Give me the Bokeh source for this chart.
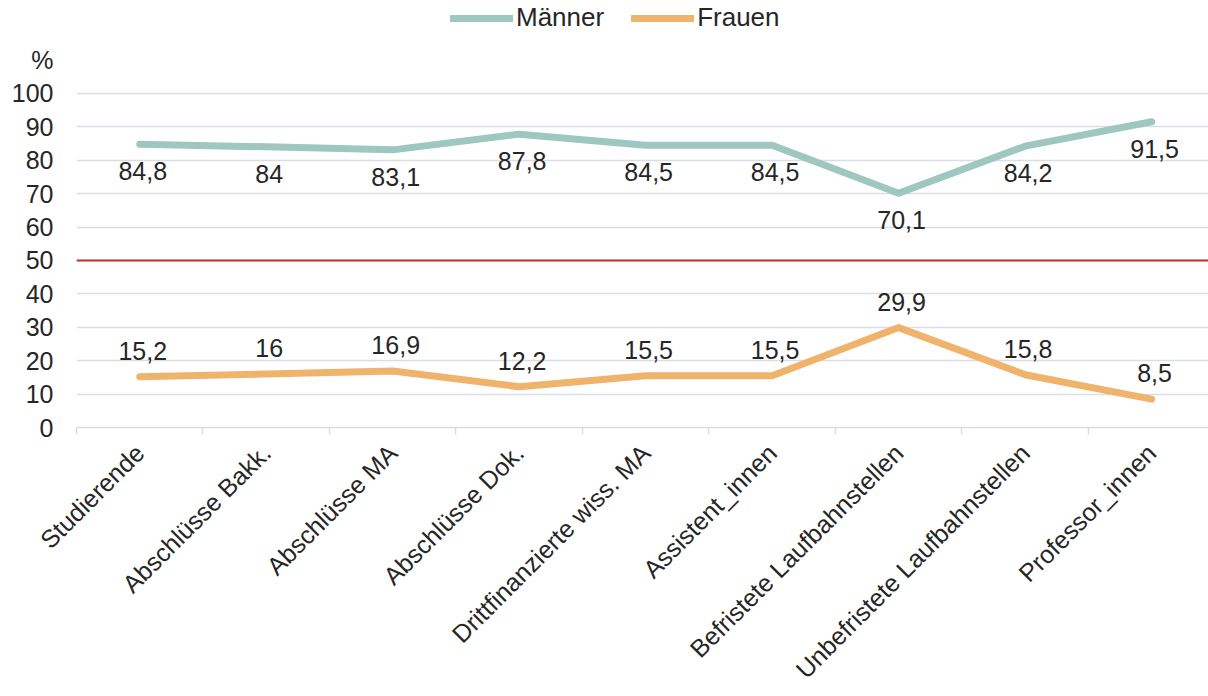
import math
from bokeh.plotting import figure
from bokeh.models import Range1d, FixedTicker, Span, Legend, LegendItem, ColumnDataSource
from bokeh.core.properties import value
from bokeh.embed import file_html
from bokeh.resources import INLINE

categories = ["Studierende", "Abschlüsse Bakk.", "Abschlüsse MA", "Abschlüsse Dok.",
              "Drittfinanzierte wiss. MA", "Assistent_innen", "Befristete Laufbahnstellen",
              "Unbefristete Laufbahnstellen", "Professor_innen"]
maenner = [84.8, 84, 83.1, 87.8, 84.5, 84.5, 70.1, 84.2, 91.5]
frauen = [15.2, 16, 16.9, 12.2, 15.5, 15.5, 29.9, 15.8, 8.5]
y_ticks = [0, 10, 20, 30, 40, 50, 60, 70, 80, 90, 100]
y_unit_label = "%"
parity_line = 50

FONT = "Liberation Sans"
FS = "25px"
TXT = "#262626"
GRID = "#d9dde6"
C_M = "#9ec7bf"
C_F = "#f0b36c"

n = len(categories)
centers = [i + 0.5 for i in range(n)]
bounds = [float(i) for i in range(n + 1)]

def fmt(v):
    return f"{v:g}".replace(".", ",")

src = ColumnDataSource(dict(
    x=centers, m=maenner, f=frauen,
    ml=[fmt(v) for v in maenner], fl=[fmt(v) for v in frauen],
))

p = figure(width=1208, height=696, output_backend="svg", toolbar_location=None,
           x_range=Range1d(0, 8.95), y_range=Range1d(0, 127.8),
           min_border_left=76, min_border_right=0, min_border_top=0, min_border_bottom=269)
p.outline_line_color = None
p.background_fill_color = "white"

# grid
p.xgrid.visible = False
p.ygrid.ticker = FixedTicker(ticks=y_ticks)
p.ygrid.grid_line_color = GRID
p.ygrid.grid_line_width = 1.5

# y axis
unit_tick = y_ticks[-1] + (y_ticks[1] - y_ticks[0])
p.yaxis.ticker = FixedTicker(ticks=y_ticks + [unit_tick])
p.yaxis.major_label_overrides = {unit_tick: y_unit_label}
p.yaxis.axis_line_color = None
p.yaxis.major_tick_line_color = None
p.yaxis.minor_tick_line_color = None
p.yaxis.major_tick_out = 0
p.yaxis.major_tick_in = 0
p.yaxis.major_label_standoff = 23
p.yaxis.major_label_text_font = FONT
p.yaxis.major_label_text_font_size = FS
p.yaxis.major_label_text_color = TXT

# x axis
p.xaxis.ticker = FixedTicker(ticks=centers, minor_ticks=bounds)
p.xaxis.major_label_overrides = {c: name for c, name in zip(centers, categories)}
p.xaxis.major_label_orientation = math.pi / 4
p.xaxis.major_tick_out = 0
p.xaxis.major_tick_in = 0
p.xaxis.minor_tick_out = 7
p.xaxis.minor_tick_in = 0
p.xaxis.minor_tick_line_color = GRID
p.xaxis.minor_tick_line_width = 1.5
p.xaxis.axis_line_color = GRID
p.xaxis.axis_line_width = 1.5
p.xaxis.major_label_standoff = 14
p.xaxis.major_label_text_font = FONT
p.xaxis.major_label_text_font_size = "25px"
p.xaxis.major_label_text_color = TXT

# parity line
p.add_layout(Span(location=parity_line, dimension="width", line_color="#cc2b2b", line_width=2))

lm = p.line("x", "m", source=src, line_width=7, line_color=C_M, line_cap="round", line_join="round")
lf = p.line("x", "f", source=src, line_width=7, line_color=C_F, line_cap="round", line_join="round")

p.text("x", "m", text="ml", source=src, text_align="center", text_baseline="middle",
       x_offset=3, y_offset=27, text_font=value(FONT), text_font_size=FS, text_color=TXT)
p.text("x", "f", text="fl", source=src, text_align="center", text_baseline="middle",
       x_offset=3, y_offset=-26, text_font=value(FONT), text_font_size=FS, text_color=TXT)

legend = Legend(items=[LegendItem(label="Männer", renderers=[lm]),
                       LegendItem(label="Frauen", renderers=[lf])],
                orientation="horizontal", location=(374, 394), padding=0, margin=0,
                spacing=27, label_standoff=3, glyph_width=63, glyph_height=26,
                label_height=26, border_line_color=None, background_fill_alpha=0,
                label_text_font=FONT, label_text_font_size="26px", label_text_color=TXT)
p.add_layout(legend)

open("out.html", "w").write(file_html(p, INLINE))
